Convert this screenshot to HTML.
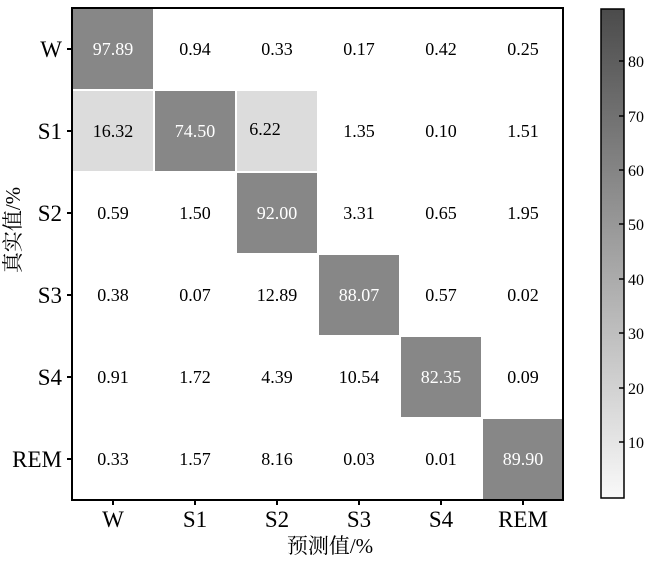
<!DOCTYPE html>
<html><head><meta charset="utf-8"><style>body{margin:0;background:#fff}</style></head><body>
<svg width="650" height="558" viewBox="0 0 650 558" xmlns="http://www.w3.org/2000/svg" font-family="'Liberation Serif','Noto Serif CJK SC',serif">
<defs><linearGradient id="g" x1="0" y1="1" x2="0" y2="0"><stop offset="0" stop-color="#f9f9f9"/><stop offset="1" stop-color="#4b4b4b"/></linearGradient></defs>
<g stroke="#fff" stroke-width="2">
<rect x="72" y="8" width="82" height="82" fill="#878787"/>
<rect x="72" y="90" width="82" height="82" fill="#dcdcdc"/>
<rect x="154" y="90" width="82" height="82" fill="#878787"/>
<rect x="236" y="90" width="82" height="82" fill="#dcdcdc"/>
<rect x="236" y="172" width="82" height="82" fill="#878787"/>
<rect x="318" y="254" width="82" height="82" fill="#878787"/>
<rect x="400" y="336" width="82" height="82" fill="#878787"/>
<rect x="482" y="418" width="81" height="82" fill="#878787"/>
</g>
<rect x="72" y="8" width="491" height="492" fill="none" stroke="#000" stroke-width="2"/>
<g font-size="18" text-anchor="middle">
<g fill="#fff"><text x="113" y="55">97.89</text><text x="195" y="137">74.50</text><text x="277" y="219">92.00</text><text x="359" y="301">88.07</text><text x="441" y="383">82.35</text><text x="523" y="465">89.90</text></g>
<text x="195" y="55">0.94</text><text x="277" y="55">0.33</text><text x="359" y="55">0.17</text><text x="441" y="55">0.42</text><text x="523" y="55">0.25</text>
<text x="113" y="137">16.32</text><text x="265" y="135">6.22</text><text x="359" y="137">1.35</text><text x="441" y="137">0.10</text><text x="523" y="137">1.51</text>
<text x="113" y="219">0.59</text><text x="195" y="219">1.50</text><text x="359" y="219">3.31</text><text x="441" y="219">0.65</text><text x="523" y="219">1.95</text>
<text x="113" y="301">0.38</text><text x="195" y="301">0.07</text><text x="277" y="301">12.89</text><text x="441" y="301">0.57</text><text x="523" y="301">0.02</text>
<text x="113" y="383">0.91</text><text x="195" y="383">1.72</text><text x="277" y="383">4.39</text><text x="359" y="383">10.54</text><text x="523" y="383">0.09</text>
<text x="113" y="465">0.33</text><text x="195" y="465">1.57</text><text x="277" y="465">8.16</text><text x="359" y="465">0.03</text><text x="441" y="465">0.01</text>
</g>
<g stroke="#000" stroke-width="2">
<line x1="67" y1="131" x2="72" y2="131"/><line x1="67" y1="213" x2="72" y2="213"/><line x1="67" y1="295" x2="72" y2="295"/><line x1="67" y1="377" x2="72" y2="377"/><line x1="67" y1="459" x2="72" y2="459"/><line x1="67" y1="49" x2="72" y2="49"/>
<line x1="113" y1="500" x2="113" y2="505"/><line x1="195" y1="500" x2="195" y2="505"/><line x1="277" y1="500" x2="277" y2="505"/><line x1="359" y1="500" x2="359" y2="505"/><line x1="441" y1="500" x2="441" y2="505"/><line x1="523" y1="500" x2="523" y2="505"/>
</g>
<g font-size="23" text-anchor="end">
<text x="62" y="57">W</text><text x="62" y="139">S1</text><text x="62" y="221">S2</text><text x="62" y="303">S3</text><text x="62" y="385">S4</text><text x="62" y="467">REM</text>
</g>
<g font-size="23" text-anchor="middle">
<text x="113" y="527">W</text><text x="195" y="527">S1</text><text x="277" y="527">S2</text><text x="359" y="527">S3</text><text x="441" y="527">S4</text><text x="523" y="527">REM</text>
</g>
<text x="330" y="553" font-size="21" text-anchor="middle">预测值/%</text>
<text transform="translate(20,230) rotate(-90)" font-size="21" text-anchor="middle">真实值/%</text>
<rect x="601" y="9" width="23" height="489" fill="url(#g)" stroke="#000" stroke-width="1.5"/>
<g stroke="#000" stroke-width="1.5">
<line x1="619" y1="61" x2="624" y2="61"/><line x1="619" y1="116" x2="624" y2="116"/><line x1="619" y1="170" x2="624" y2="170"/><line x1="619" y1="224" x2="624" y2="224"/><line x1="619" y1="279" x2="624" y2="279"/><line x1="619" y1="333" x2="624" y2="333"/><line x1="619" y1="388" x2="624" y2="388"/><line x1="619" y1="442" x2="624" y2="442"/>
</g>
<g font-size="16">
<text x="628" y="67">80</text><text x="628" y="122">70</text><text x="628" y="176">60</text><text x="628" y="230">50</text><text x="628" y="285">40</text><text x="628" y="339">30</text><text x="628" y="394">20</text><text x="628" y="448">10</text>
</g>
</svg>
</body></html>
